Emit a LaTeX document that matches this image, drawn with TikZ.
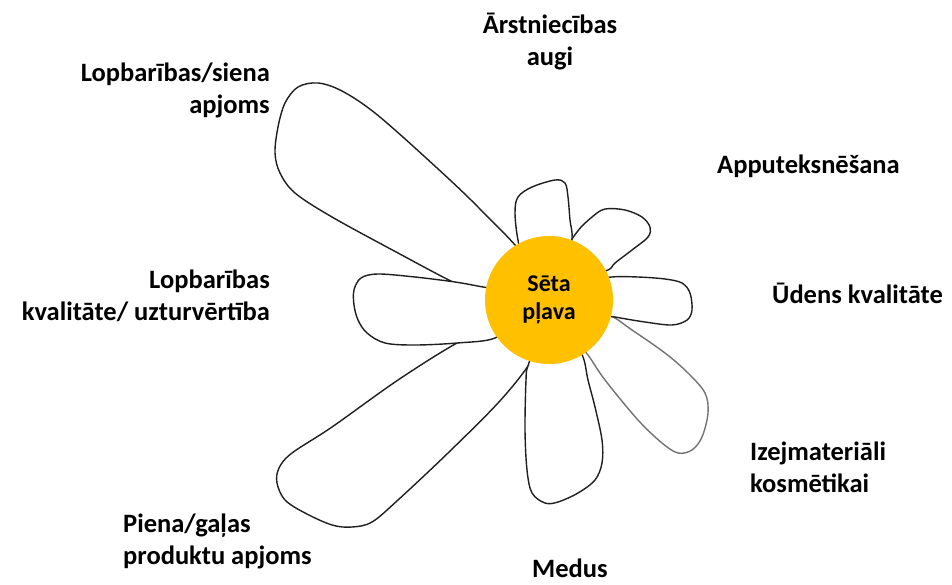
\documentclass[tikz,border=0pt]{standalone}
\usepackage{fontspec}
\setmainfont{Carlito}
\usetikzlibrary{positioning}
\definecolor{hubyellow}{HTML}{FFC000}

\begin{document}
\begin{tikzpicture}[x=1pt, y=-1pt,
  petal/.style={draw=black!88, fill=white, line width=1.4pt, line join=round},
  pale petal/.style={petal, draw=black!55},
  label/.style={font=\fontsize{26.5}{32}\selectfont\bfseries, inner sep=0pt},
  hub/.style={circle, fill=hubyellow, minimum size=128pt, inner sep=0pt,
    align=center, font=\fontsize{24}{28}\selectfont\bfseries}]

\useasboundingbox (0,0) rectangle (952,584);

% petals behind the small left one
\draw [petal] plot [smooth cycle, tension=0.55] coordinates {
  (528,262) (478,207) (425,157) (375,113) (342,91) (318,83) (298,87)
  (285,103) (278,127) (275,153) (280,173) (295,193) (332,217) (398,253)
  (455,283) (482,292) (520,290)};
\draw [petal] plot [smooth cycle, tension=0.55] coordinates {
  (520,330) (480,336) (457,343) (398,380) (332,427) (292,453) (279,468)
  (277,483) (285,500) (305,513) (332,525) (352,527) (372,522) (398,500)
  (448,453) (498,403) (528,366) (540,340)};
\draw [petal] plot [smooth cycle, tension=0.55] coordinates {
  (515,318) (510,292) (483,287) (455,282) (415,277) (378,274) (361,278)
  (354,290) (354,305) (358,320) (367,333) (385,343) (415,345) (457,343)
  (495,338)};

% petals on the right
\draw [petal] plot [smooth cycle, tension=0.55] coordinates {
  (540,340) (528,366) (526,380) (525,430) (527,470) (532,493) (545,503)
  (558,502) (578,493) (595,480) (602,463) (602,440) (595,407) (588,380)
  (583,357) (570,335)};
\draw [pale petal] plot [smooth cycle, tension=0.55] coordinates {
  (575,340) (588,355) (605,380) (638,420) (662,443) (678,453) (692,450)
  (702,437) (708,413) (705,393) (688,373) (665,353) (632,330) (610,316)
  (590,320)};
\draw [petal] plot [smooth cycle, tension=0.55] coordinates {
  (590,282) (612,277) (638,277) (665,279) (682,283) (690,293) (692,310)
  (687,320) (672,325) (645,322) (615,317) (590,312)};
\draw [petal] plot [smooth cycle, tension=0.55] coordinates {
  (565,255) (577,232) (592,217) (605,209) (625,210) (642,217) (650,227)
  (648,237) (632,250) (615,263) (608,270) (585,275)};
\draw [petal] plot [smooth cycle, tension=0.55] coordinates {
  (525,260) (518,240) (515,213) (518,197) (532,187) (555,180) (565,183)
  (568,197) (570,220) (572,238) (565,260)};

\node [hub] (hub) at (549,300) {Sēta\\pļava};

% labels (base = baseline of the last line)
\node [label, align=center, anchor=base] (arst) at (550,65) {Ārstniecības\\augi};
\node [label, align=right, anchor=base east] (siena) at (270,113) {Lopbarības/siena\\apjoms};
\node [label, anchor=base west] (apput) at (717,173) {Apputeksnēšana};
\node [label, align=right, anchor=base east] (kval) at (270,320) {Lopbarības\\kvalitāte/ uzturvērtība};
\node [label, anchor=base west] (udens) at (772,303) {Ūdens kvalitāte};
\node [label, align=left, anchor=base west] (izej) at (750,492) {Izejmateriāli\\kosmētikai};
\node [label, align=left, anchor=base west] (piena) at (123,564) {Piena/gaļas\\produktu apjoms};
\node [label, anchor=base west] (medus) at (532,577) {Medus};

\end{tikzpicture}
\end{document}
